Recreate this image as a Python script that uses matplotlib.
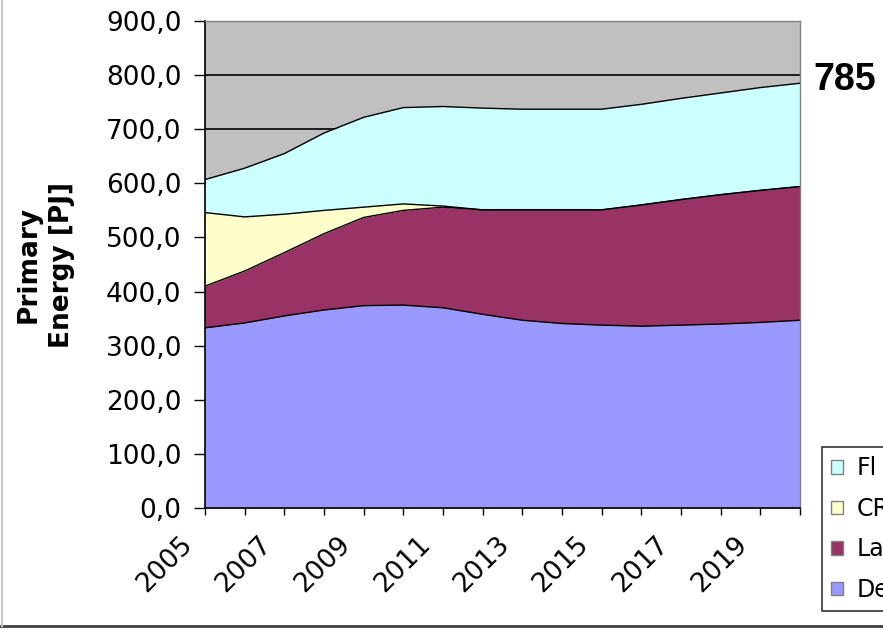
import numpy as np
import matplotlib
matplotlib.use('Agg')
import matplotlib.pyplot as plt
import matplotlib.transforms as mtransforms
from matplotlib.patches import Patch
from matplotlib.lines import Line2D
from matplotlib.ticker import FuncFormatter

# ========== data (PJ) ==========
years = list(range(2005, 2021))
de = [333, 342, 355, 366, 374, 375, 370, 358, 347, 341, 338, 336, 338, 340, 343, 347]
la = [77, 96, 117, 141, 163, 175, 186, 193, 204, 210, 213, 224, 232, 239, 244, 247]
cr = [136, 100, 71, 43, 19, 12, 2, 0, 0, 0, 0, 0, 0, 0, 0, 0]
fl = [61, 90, 112, 143, 166, 178, 184, 188, 186, 186, 186, 186, 187, 188, 190, 191]
labels = ['Fl', 'CR', 'La', 'De']
label_years = list(range(2005, 2020, 2))
end_label = '785'

colors = {'De': '#9999FF', 'La': '#993366', 'CR': '#FFFFCC', 'Fl': '#CCFFFF'}

# ========== figure ==========
fig = plt.figure(figsize=(8.83, 6.29), dpi=100)
ax = fig.add_axes([205/883, 1 - 508/629, 595/883, 487/629])
ax.set_facecolor('#C0C0C0')

x = np.array(years)
layers = [('De', de), ('La', la), ('CR', cr), ('Fl', fl)]
base = np.zeros(len(x))
for name, vals in layers:
    top = base + np.array(vals)
    ax.fill_between(x, base, top, color=colors[name], lw=0, zorder=1)
    ax.plot(x, top, color='black', lw=1, zorder=2)
    base = top

# grid behind the areas
ax.set_axisbelow(True)
ax.yaxis.grid(True, color='black', lw=1.2)

ax.set_xlim(2005, 2020)
ax.set_ylim(0, 900)
ax.set_yticks(np.arange(0, 901, 100))
ax.yaxis.set_major_formatter(FuncFormatter(lambda v, p: f"{v:.1f}".replace('.', ',')))
ax.set_xticks(label_years)
ax.set_xticks(years, minor=True)
ax.set_xticklabels([str(y) for y in label_years], rotation=45, ha='right',
                   va='top', rotation_mode='anchor')

ax.tick_params(axis='y', labelsize=19, length=8, width=1, pad=9, colors='black')
ax.tick_params(axis='x', which='both', length=5, width=1)
ax.tick_params(axis='x', labelsize=19, pad=12)

# shift the year labels to the left, as in Excel
shift = mtransforms.ScaledTranslation(-26/100, 0, fig.dpi_scale_trans)
for lab in ax.get_xticklabels():
    lab.set_transform(lab.get_transform() + shift)

for s in ['left', 'bottom']:
    ax.spines[s].set_color('black')
    ax.spines[s].set_linewidth(1.2)
for s in ['top', 'right']:
    ax.spines[s].set_color('#808080')
    ax.spines[s].set_linewidth(1)

ax.set_ylabel('Primary\nEnergy [PJ]', fontsize=19, fontweight='bold', linespacing=1.35)
ax.yaxis.set_label_coords(-0.219, 0.5)

# value at the end of the top curve
fig.text(813/883, 1 - 80/629, end_label, fontsize=27, fontweight='bold',
         family='Liberation Sans', ha='left', va='center')

# legend (cut by the right edge, like the screenshot)
handles = [Patch(facecolor=colors[n], edgecolor='#808080', lw=1) for n in labels]
leg = fig.legend(handles, labels, loc='upper left', bbox_to_anchor=(822/883, 1 - 447/629),
                 fontsize=17, frameon=True, fancybox=False, edgecolor='black',
                 handlelength=0.5, handleheight=0.5, handletextpad=0.55,
                 labelspacing=0.7, borderpad=0.4, borderaxespad=0)
leg.get_frame().set_linewidth(1.2)

# frame lines of the screenshot
fig.add_artist(Line2D([0, 1], [1 - 626/629] * 2, color='#404040', lw=2))
fig.add_artist(Line2D([2/883] * 2, [1 - 626/629, 1], color='#C8C8C8', lw=1.5))

plt.savefig('out.png', dpi=100)
